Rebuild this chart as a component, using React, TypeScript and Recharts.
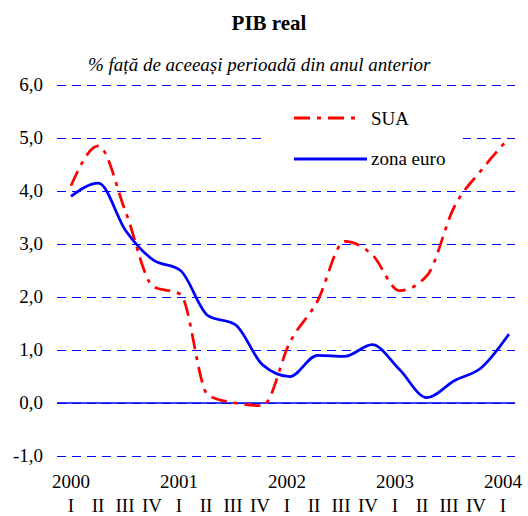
import React from 'react';
import { LineChart, Line, XAxis, YAxis, CartesianGrid, ReferenceLine, Legend } from 'recharts';

const quarters = ['I', 'II', 'III', 'IV', 'I', 'II', 'III', 'IV', 'I', 'II', 'III', 'IV', 'I', 'II', 'III', 'IV', 'I'];
const years = ['2000', '2001', '2002', '2003', '2004'];
const sua = [4.1, 4.85, 3.6, 2.2, 2.05, 0.15, 0.0, -0.05, 1.15, 1.92, 3.05, 2.8, 2.12, 2.4, 3.7, 4.4, 5.0];
const euro = [3.9, 4.15, 3.25, 2.7, 2.5, 1.65, 1.48, 0.72, 0.5, 0.9, 0.88, 1.1, 0.63, 0.1, 0.42, 0.67, 1.3];
const yTicks = [-1, 0, 1, 2, 3, 4, 5, 6];
const seriesNames = { sua: 'SUA', euro: 'zona euro' };
const title = 'PIB real';
const subtitle = '% față de aceeași perioadă din anul anterior';

const data = quarters.map((q, i) => ({ key: i, q, sua: sua[i], euro: euro[i] }));

const FONT = '"Liberation Serif", "Times New Roman", serif';

const XTick = (props: any) => {
  const { x, y, index, payload } = props;
  const i = typeof index === 'number' ? index : payload.index;
  const q = quarters[i];
  const lx = x - i * 0.375;
  return (
    <g>
      {q === 'I' && (
        <text x={lx} y={y + 32} textAnchor="middle" fill="#000" fontSize={19} style={{ fontFamily: FONT }}>
          {years[Math.floor(i / 4)]}
        </text>
      )}
      <text x={lx} y={y + 56} textAnchor="middle" fill="#000" fontSize={19} style={{ fontFamily: FONT }}>
        {q}
      </text>
    </g>
  );
};

const YTick = (props: any) => {
  const { x, y, payload } = props;
  return (
    <text x={x} y={y + 6} textAnchor="end" fill="#000" fontSize={19} style={{ fontFamily: FONT }}>
      {Number(payload.value).toFixed(1).replace('.', ',')}
    </text>
  );
};

const LegendBox = () => (
  <div style={{ background: '#fff', width: 196, height: 88 }}>
    <svg width={196} height={88} style={{ display: 'block' }}>
      <line x1={27} y1={23} x2={95} y2={23} stroke="#ff0000" strokeWidth={3} strokeDasharray="16 7 4 7" />
      <text x={104} y={30} fontSize={19} style={{ fontFamily: FONT }} fill="#000">{seriesNames.sua}</text>
      <line x1={27} y1={64} x2={100} y2={64} stroke="#0000ff" strokeWidth={3} />
      <text x={104} y={70} fontSize={19} style={{ fontFamily: FONT }} fill="#000">{seriesNames.euro}</text>
    </svg>
  </div>
);

export default function App() {
  return (
    <div style={{ position: 'absolute', left: 0, top: 0, width: 528, height: 516, background: '#fff', fontFamily: FONT }}>
      <LineChart
        width={528}
        height={516}
        data={data}
        margin={{ top: 85, right: 13, bottom: 0, left: 7 }}
        style={{ fontFamily: FONT }}
      >
        <CartesianGrid horizontal vertical={false} stroke="#0000ff" strokeDasharray="9 6" shapeRendering="crispEdges" />
        <XAxis
          dataKey="key"
          type="category"
          axisLine={false}
          tickLine={false}
          tickSize={0}
          tickMargin={0}
          interval={0}
          height={60}
          padding={{ left: 14, right: 6 }}
          tick={<XTick />}
        />
        <YAxis
          domain={[-1, 6]}
          ticks={yTicks}
          width={50}
          axisLine={false}
          tickLine={false}
          tickSize={0}
          tickMargin={14}
          interval={0}
          tick={<YTick />}
        />
        <ReferenceLine y={0} stroke="#0000ff" strokeWidth={1.5} />
        <Legend
          layout="horizontal"
          verticalAlign="middle"
          align="center"
          content={<LegendBox />}
          wrapperStyle={{ left: 267, top: 95, width: 196, height: 88 }}
        />
        <Line
          type="monotone"
          dataKey="euro"
          name={seriesNames.euro}
          stroke="#0000ff"
          strokeWidth={2.75}
          dot={false}
          activeDot={false}
          isAnimationActive={false}
        />
        <Line
          type="monotone"
          dataKey="sua"
          name={seriesNames.sua}
          stroke="#ff0000"
          strokeWidth={2.75}
          strokeDasharray="16 7 4 7"
          dot={false}
          activeDot={false}
          isAnimationActive={false}
        />
      </LineChart>
      <svg width={528} height={85} style={{ position: 'absolute', left: 0, top: 0, pointerEvents: 'none' }}>
        <text x={269} y={30} textAnchor="middle" fontSize={21} fontWeight="bold" style={{ fontFamily: FONT }} fill="#000">
          {title}
        </text>
        <text x={88} y={71} fontSize={19} fontStyle="italic" style={{ fontFamily: FONT }} fill="#000">
          {subtitle}
        </text>
      </svg>
    </div>
  );
}
